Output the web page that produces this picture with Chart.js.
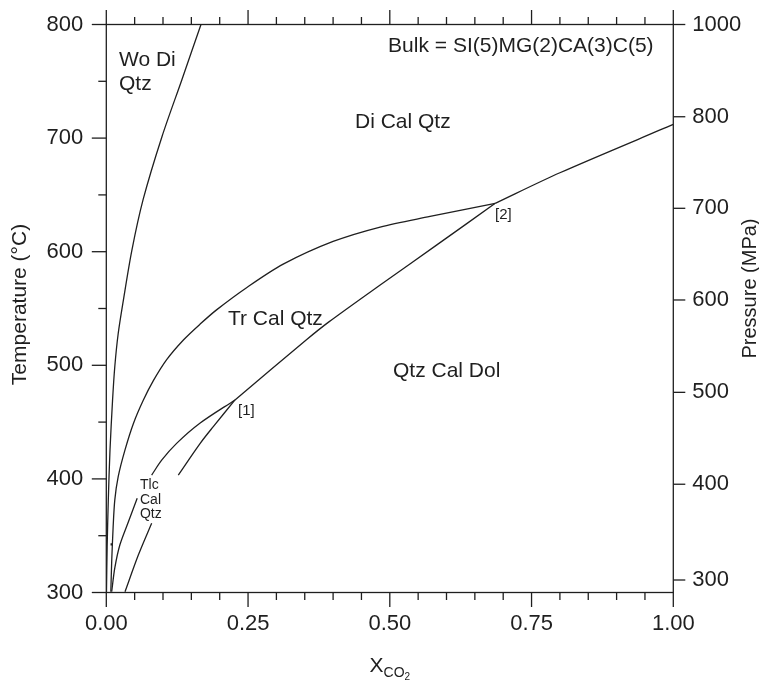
<!DOCTYPE html>
<html>
<head>
<meta charset="utf-8">
<script src="https://cdn.jsdelivr.net/npm/chart.js@4.4.1/dist/chart.umd.min.js"></script>
<style>
  html, body { margin: 0; padding: 0; background: #fff; }
  canvas { display: block; }
</style>
</head>
<body>
<canvas id="phaseChart" width="759" height="680"></canvas>
<script>
// X(CO2) vs temperature (°C)
const woDiX = [0.0003, 0.0015, 0.0035, 0.0065, 0.011, 0.015, 0.021, 0.030, 0.045, 0.065, 0.098, 0.133, 0.167];
const woDiT = [300, 340, 381, 425, 469, 499, 528, 557, 601, 646, 701, 751, 800];

const trUpperX = [0.008, 0.0095, 0.012, 0.015, 0.021, 0.033, 0.048, 0.065, 0.083, 0.1065, 0.136, 0.166, 0.195, 0.248, 0.312, 0.400, 0.483, 0.571, 0.686];
const trUpperT = [300.7, 327, 357, 381.5, 402, 425.5, 449, 469, 486.5, 505, 522.3, 536.5, 549, 568.5, 589, 609, 621.7, 631, 642.6];

const diHighX = [0.686, 0.800, 1.000];
const diHighT = [642.6, 669.5, 712];

const trLowerX = [0.227, 0.353, 0.392, 0.483, 0.583, 0.686];
const trLowerT = [469.5, 522.5, 538, 570.7, 606, 642.6];

// talc field upper boundary, broken where the label sits (null)
const tlcUpperX = [0.0095, 0.015, 0.024, 0.039, 0.0545, 0.067, 0.080, 0.098, 0.124, 0.165, 0.227];
const tlcUpperT = [300.7, 321.6, 342, 362.3, 383, null, 403.4, 416.7, 431.3, 449, 469.5];

// talc field lower boundary, also broken at the label
const tlcLowerX = [0.033, 0.0565, 0.080, 0.10, 0.127, 0.1656, 0.1887, 0.227];
const tlcLowerT = [300.7, 333, 361, null, 403.4, 431.3, 446, 469.5];

const markX = [0.0095];
const markT = [342.4];

const xTickValues = [0, 0.25, 0.5, 0.75, 1];
const xTickLabels = ['0.00', '0.25', '0.50', '0.75', '1.00'];
const tempTicks = [300, 400, 500, 600, 700, 800];
const pressureLabels = ['300', '400', '500', '600', '700', '800', '1000'];
const pressureAtTemp = [311, 395.3, 476.2, 557.5, 638.2, 718.8, 800];

const fieldLabels = [
  { text: 'Wo Di', x: 0.0224, t: 763.5, size: 21 },
  { text: 'Qtz', x: 0.0224, t: 742.3, size: 21 },
  { text: 'Bulk = SI(5)MG(2)CA(3)C(5)', x: 0.497, t: 775.8, size: 21 },
  { text: 'Di Cal Qtz', x: 0.4386, t: 708.9, size: 21 },
  { text: 'Tr Cal Qtz', x: 0.2146, t: 535.5, size: 21 },
  { text: 'Qtz Cal Dol', x: 0.5056, t: 489.7, size: 21 },
  { text: '[1]', x: 0.2323, t: 456.3, size: 15 },
  { text: '[2]', x: 0.6856, t: 628.8, size: 15 },
  { text: 'Tlc', x: 0.0594, t: 391.1, size: 14 },
  { text: 'Cal', x: 0.0594, t: 377.9, size: 14 },
  { text: 'Qtz', x: 0.0594, t: 366, size: 14 }
];

const INK = '#1f1f1f';
const FONT = '"Liberation Sans", Arial, Helvetica, sans-serif';

const toPts = (xs, ts) => xs.map((v, i) => ({ x: v, y: ts[i] }));

function curve(xs, ts) {
  return {
    data: toPts(xs, ts),
    showLine: true,
    borderColor: INK,
    borderWidth: 1.3,
    pointRadius: 0,
    tension: 0.3,
    spanGaps: false
  };
}

function seg(ctx, x1, y1, x2, y2) {
  ctx.beginPath();
  ctx.moveTo(x1, y1);
  ctx.lineTo(x2, y2);
  ctx.stroke();
}

// keep Chart.js from pushing the plot area in for the end labels
function fixVertical(width) {
  return s => { s.width = width; s.paddingTop = 0; s.paddingBottom = 0; };
}

const framePlugin = {
  id: 'frame',
  afterDraw(chart) {
    const { ctx, chartArea: a, scales: { x, y, y2 } } = chart;
    ctx.save();
    ctx.strokeStyle = INK;
    ctx.lineWidth = 1.3;
    ctx.strokeRect(a.left, a.top, a.right - a.left, a.bottom - a.top);

    // x ticks every 0.05 on top and bottom, long ones at 0.25
    for (let i = 0; i <= 20; i++) {
      const px = x.getPixelForValue(i * 0.05);
      const len = i % 5 === 0 ? 14.5 : 7.5;
      seg(ctx, px, a.top - len, px, a.top);
      seg(ctx, px, a.bottom, px, a.bottom + len);
    }
    // temperature ticks every 50
    for (let t = 300; t <= 800; t += 50) {
      const py = y.getPixelForValue(t);
      seg(ctx, a.left - (t % 100 === 0 ? 14.5 : 8), py, a.left, py);
    }
    // pressure ticks
    pressureAtTemp.forEach(t => {
      const py = y2.getPixelForValue(t);
      seg(ctx, a.right, py, a.right + 12, py);
    });

    ctx.fillStyle = INK;
    ctx.textAlign = 'left';
    ctx.textBaseline = 'alphabetic';
    fieldLabels.forEach(l => {
      ctx.font = `${l.size}px ${FONT}`;
      ctx.fillText(l.text, x.getPixelForValue(l.x), y.getPixelForValue(l.t));
    });

    // axis titles
    const midY = (a.top + a.bottom) / 2;
    ctx.textAlign = 'center';
    ctx.textBaseline = 'middle';
    ctx.save();
    ctx.translate(20, midY - 4);
    ctx.rotate(-Math.PI / 2);
    ctx.font = `21px ${FONT}`;
    ctx.fillText('Temperature (°C)', 0, 0);
    ctx.restore();

    ctx.save();
    ctx.translate(750, midY - 20);
    ctx.rotate(-Math.PI / 2);
    ctx.font = `20px ${FONT}`;
    ctx.fillText('Pressure (MPa)', 0, 0);
    ctx.restore();

    // X with CO2 subscript
    ctx.textAlign = 'left';
    ctx.textBaseline = 'alphabetic';
    ctx.font = `21px ${FONT}`;
    const wX = ctx.measureText('X').width;
    ctx.font = `14px ${FONT}`;
    const wCO = ctx.measureText('CO').width;
    ctx.font = `10px ${FONT}`;
    const w2 = ctx.measureText('2').width;
    let sx = (a.left + a.right) / 2 - (wX + wCO + w2) / 2;
    ctx.font = `21px ${FONT}`;
    ctx.fillText('X', sx, 672);
    sx += wX;
    ctx.font = `14px ${FONT}`;
    ctx.fillText('CO', sx, 677);
    sx += wCO;
    ctx.font = `10px ${FONT}`;
    ctx.fillText('2', sx, 680);
    ctx.restore();
  }
};

Chart.defaults.font.family = FONT;
Chart.defaults.color = INK;

new Chart(document.getElementById('phaseChart'), {
  type: 'scatter',
  data: {
    datasets: [
      curve(woDiX, woDiT),
      curve(trUpperX, trUpperT),
      curve(diHighX, diHighT),
      curve(trLowerX, trLowerT),
      curve(tlcUpperX, tlcUpperT),
      curve(tlcLowerX, tlcLowerT),
      {
        data: toPts(markX, markT),
        pointStyle: 'rect',
        pointRadius: 1.6,
        backgroundColor: INK,
        borderColor: INK,
        borderWidth: 0
      }
    ]
  },
  options: {
    responsive: false,
    animation: false,
    devicePixelRatio: 1,
    layout: { padding: { top: 24.5, left: 0, right: 0, bottom: 0 } },
    plugins: { legend: { display: false }, tooltip: { enabled: false } },
    scales: {
      x: {
        type: 'linear', position: 'bottom', min: 0, max: 1,
        grid: { display: false, drawTicks: false },
        border: { display: false },
        afterBuildTicks: s => { s.ticks = xTickValues.map(v => ({ value: v })); },
        ticks: { font: { size: 22 }, padding: 18, maxRotation: 0,
                 callback: (v, i) => xTickLabels[i] },
        afterFit: s => { s.height = 87.5; s.paddingLeft = 0; s.paddingRight = 0; }
      },
      y: {
        type: 'linear', position: 'left', min: 300, max: 800,
        grid: { display: false, drawTicks: false },
        border: { display: false },
        afterBuildTicks: s => { s.ticks = tempTicks.map(v => ({ value: v })); },
        ticks: { font: { size: 22 }, padding: 23 },
        afterFit: fixVertical(106.3)
      },
      y2: {
        type: 'linear', position: 'right', min: 300, max: 800,
        grid: { display: false, drawTicks: false },
        border: { display: false },
        afterBuildTicks: s => { s.ticks = pressureAtTemp.map(v => ({ value: v })); },
        ticks: { font: { size: 22 }, padding: 19,
                 callback: (v, i) => pressureLabels[i] },
        afterFit: fixVertical(85.7)
      }
    }
  },
  plugins: [framePlugin]
});
</script>
</body>
</html>
